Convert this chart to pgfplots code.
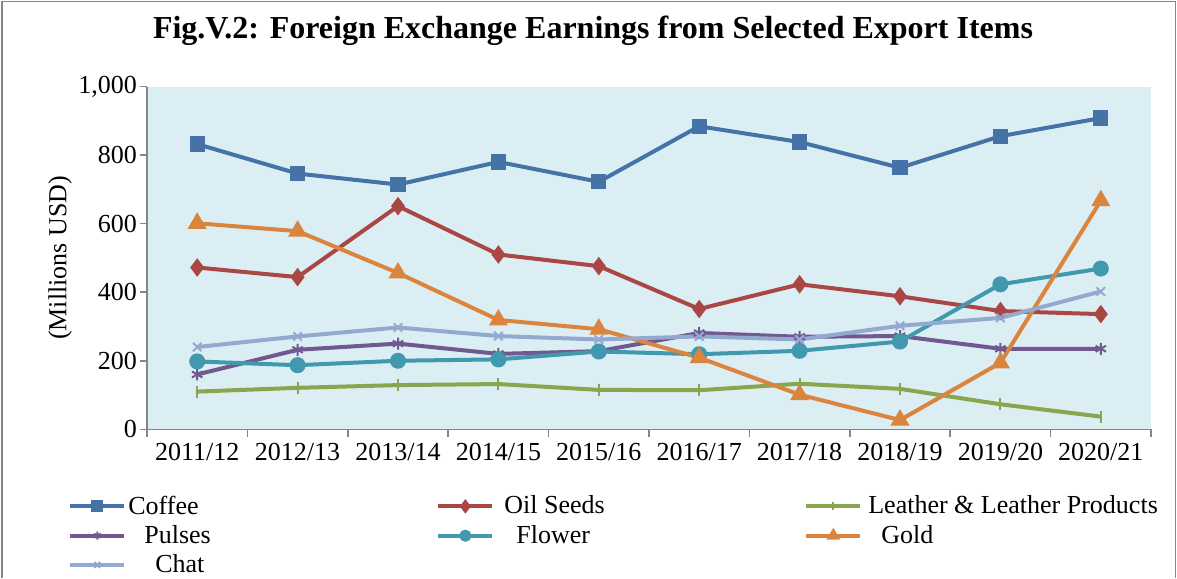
\documentclass[border=0pt]{standalone}
\usepackage{fontspec}
\setmainfont{Liberation Serif}
\usepackage{pgfplots}
\pgfplotsset{compat=1.18}
\definecolor{cCoffee}{HTML}{4573A7}
\definecolor{cOil}{HTML}{AA4643}
\definecolor{cLeather}{HTML}{89A54E}
\definecolor{cPulses}{HTML}{71588F}
\definecolor{cFlower}{HTML}{4198AF}
\definecolor{cGold}{HTML}{DB843D}
\definecolor{cChat}{HTML}{93A9CF}
\definecolor{bgblue}{HTML}{DBEEF3}
\definecolor{axgray}{HTML}{868686}
\newcommand{\lt}[2][0pt]{\makebox[153pt][l]{\hspace*{#1}#2}}
\begin{document}
\begin{tikzpicture}
\useasboundingbox (0,0) rectangle (588.5pt,-289pt);
\draw[axgray, line width=0.6pt] (1pt,-289pt) -- (1pt,-0.6pt) -- (587.9pt,-0.6pt) -- (587.9pt,-289pt);
\node[font=\fontsize{16}{19}\selectfont\bfseries] at (296.5pt,-15.5pt) {Fig.V.2: Foreign Exchange Earnings from Selected Export Items};
\begin{axis}[
  at={(73.5pt,-214.65pt)}, anchor=south west,
  scale only axis, width=502pt, height=171.4pt,
  xmin=-0.5, xmax=9.5, ymin=0, ymax=1000,
  axis lines*=left,
  axis line style={axgray, line width=0.8pt},
  axis background/.style={fill=bgblue},
  tick align=outside,
  xtick={0,...,9},
  xticklabels={2011/12,2012/13,2013/14,2014/15,2015/16,2016/17,2017/18,2018/19,2019/20,2020/21},
  major x tick style={draw=none},
  minor xtick={-0.5,0.5,...,9.5},
  minor tick length=4pt,
  minor x tick style={axgray, line width=0.8pt},
  ytick={0,200,...,1000},
  major tick length=3.5pt,
  y tick style={axgray, line width=0.8pt},
  tick label style={font=\fontsize{13}{15}\selectfont, black},
  yticklabel style={xshift=2pt},
  /pgf/number format/.cd, 1000 sep={,}, assume math mode=true, /pgfplots/.cd,
  ylabel={(Millions USD)},
  ylabel style={at={(axis description cs:-0.0866,0.5)}, anchor=center, font=\fontsize{13}{15}\selectfont},
  every axis plot/.append style={line width=2pt},
  legend image code/.code={\draw[mark repeat=2,mark phase=2,#1,mark size=2pt] plot coordinates {(0pt,0pt)(13.5pt,0pt)(27pt,0pt)};},
  legend columns=3,
  legend style={at={(axis description cs:-0.0847,-0.175)}, anchor=north west, draw=none, fill=none, font=\fontsize{13}{15}\selectfont, nodes={inner sep=1pt}, row sep=2.1pt, column sep=0pt},
  legend cell align=left,
]
\addplot[color=cCoffee, mark=square*, mark size=2.8pt, mark options={solid}] coordinates {(0,832)(1,746)(2,714)(3,780)(4,722)(5,884)(6,838)(7,763)(8,855)(9,908)};
\addlegendentry{\lt{Coffee}}
\addplot[color=cOil, mark=diamond*, mark size=3pt] coordinates {(0,472)(1,444)(2,651)(3,510)(4,476)(5,351)(6,423)(7,388)(8,345)(9,336)};
\addlegendentry{\lt[4pt]{Oil Seeds}}
\addplot[color=cLeather, mark=|, mark size=3pt, mark options={line width=1pt}] coordinates {(0,110)(1,121)(2,129)(3,132)(4,115)(5,114)(6,133)(7,118)(8,73)(9,37)};
\addlegendentry{\lt[2pt]{Leather \& Leather Products}}
\addplot[color=cPulses, mark=asterisk, mark size=3pt, mark options={line width=1pt}] coordinates {(0,160)(1,232)(2,250)(3,220)(4,228)(5,281)(6,270)(7,272)(8,235)(9,235)};
\addlegendentry{\lt[8pt]{Pulses}}
\addplot[color=cFlower, mark=*, mark size=3pt] coordinates {(0,198)(1,187)(2,200)(3,204)(4,227)(5,219)(6,229)(7,256)(8,423)(9,469)};
\addlegendentry{\lt[10pt]{Flower}}
\addplot[color=cGold, mark=triangle*, mark size=3.5pt] coordinates {(0,601)(1,578)(2,456)(3,319)(4,292)(5,209)(6,101)(7,27)(8,194)(9,667)};
\addlegendentry{\lt[8.5pt]{Gold}}
\addplot[color=cChat, mark=x, mark size=3pt, mark options={line width=1pt}] coordinates {(0,240)(1,271)(2,297)(3,272)(4,262)(5,271)(6,262)(7,302)(8,325)(9,402)};
\addlegendentry{\lt[13.5pt]{Chat}}
\end{axis}
\end{tikzpicture}
\end{document}
